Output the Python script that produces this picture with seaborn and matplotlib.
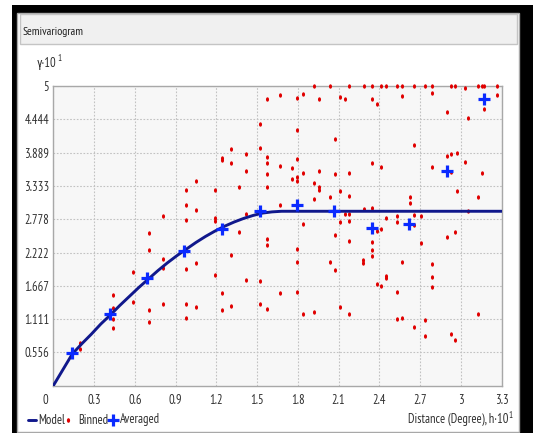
import matplotlib
matplotlib.use("Agg")
import matplotlib.pyplot as plt
import seaborn as sns
from matplotlib.lines import Line2D
from matplotlib.patches import Rectangle
from matplotlib.markers import MarkerStyle
from matplotlib.transforms import Affine2D, ScaledTranslation

# ---- empirical semivariogram cloud (binned pairs) ----
binned_x = [
    0.197, 0.197,
    0.437, 0.437, 0.437, 0.437,
    0.589, 0.589,
    0.705, 0.705, 0.705, 0.705,
    0.808, 0.808, 0.808, 0.808,
    0.975, 0.975, 0.975, 0.975, 0.975, 0.975,
    1.051, 1.051, 1.051, 1.051,
    1.188, 1.188, 1.188, 1.188,
    1.245, 1.245, 1.245, 1.245,
    1.309, 1.309, 1.309, 1.309,
    1.367, 1.367,
    1.419, 1.419, 1.419, 1.419,
    1.522, 1.522, 1.522, 1.522,
    1.571, 1.571, 1.571, 1.571, 1.571, 1.571, 1.571, 1.571,
    1.665, 1.665, 1.665, 1.665,
    1.755, 1.755,
    1.794, 1.794, 1.794, 1.794, 1.794, 1.794, 1.794, 1.794,
    1.836, 1.836, 1.836, 1.836,
    1.922, 1.922, 1.922, 1.922,
    1.957, 1.957, 1.957, 1.957,
    2.035, 2.035, 2.035,
    2.072, 2.072, 2.072, 2.072,
    2.109, 2.109, 2.109, 2.109,
    2.146, 2.146,
    2.177, 2.177, 2.177, 2.177, 2.177, 2.177, 2.177,
    2.283, 2.283, 2.278, 2.278,
    2.347, 2.347, 2.347, 2.347, 2.347, 2.347, 2.347,
    2.381, 2.381, 2.381,
    2.413, 2.413, 2.413, 2.413,
    2.445, 2.445, 2.445, 2.445,
    2.533, 2.533, 2.533, 2.533, 2.533,
    2.566, 2.566, 2.566, 2.566,
    2.622, 2.622,
    2.654, 2.654, 2.654, 2.654, 2.654,
    2.706, 2.706,
    2.737, 2.737, 2.737,
    2.789, 2.789, 2.789, 2.789, 2.789, 2.789,
    2.899, 2.899, 2.899,
    2.926, 2.926, 2.926, 2.926,
    2.953, 2.953, 2.953,
    2.973, 2.973,
    3.027, 3.027,
    3.051, 3.051,
    3.125, 3.125, 3.125,
    3.152, 3.152,
    3.171, 3.171,
    3.265, 3.265,
]
binned_y = [
    0.71, 0.62,
    1.52, 1.30, 1.11, 0.97,
    1.90, 1.40,
    2.55, 2.26, 1.26, 1.07,
    2.83, 2.11, 1.97, 1.36,
    3.26, 3.02, 2.77, 1.95, 1.36, 1.13,
    3.41, 2.93, 2.04, 1.32,
    3.27, 2.79, 2.75, 1.85,
    3.80, 3.77, 1.55, 1.26,
    3.95, 3.72, 2.18, 1.33,
    3.31, 2.57,
    3.86, 3.58, 2.87, 1.77,
    4.36, 3.96, 1.74, 1.36,
    4.78, 3.82, 3.72, 3.53, 3.32, 2.44, 2.35, 1.28,
    4.85, 3.67, 3.02, 1.54,
    3.63, 3.45,
    4.80, 4.27, 3.78, 3.49, 3.41, 2.28, 2.07, 1.56,
    4.86, 3.55, 2.69, 1.19,
    5.00, 3.38, 3.12, 1.23,
    4.78, 3.58, 3.32, 3.26,
    5.00, 3.14, 2.07,
    4.11, 3.53, 2.52, 1.93,
    4.82, 3.24, 2.73, 1.32,
    4.78, 2.87,
    5.00, 3.55, 3.16, 2.87, 2.75, 2.42, 1.19,
    5.00, 2.95, 2.09, 2.05,
    5.00, 4.78, 3.72, 2.96, 2.40, 2.26, 2.16,
    4.70, 2.58, 1.70,
    5.00, 3.65, 2.61, 1.67,
    5.00, 2.80, 1.83, 1.79,
    5.00, 2.83, 2.73, 1.56, 1.11,
    5.00, 4.83, 2.07, 1.13,
    3.15, 3.04,
    5.00, 4.02, 2.85, 2.68, 0.98,
    2.83, 2.38,
    5.00, 1.09, 0.83,
    5.00, 4.88, 3.65, 2.03, 1.81, 1.64,
    4.56, 3.83, 2.48,
    5.00, 3.86, 3.57, 0.86,
    5.00, 2.57, 0.76,
    3.88, 3.25,
    4.96, 3.74,
    4.47, 2.91,
    5.00, 3.14, 1.19,
    5.00, 3.55,
    5.00, 4.61,
    5.00, 4.85,
]

# ---- averaged semivariance per lag ----
averaged_x = [0.138, 0.418, 0.690, 0.962, 1.242, 1.520, 1.792, 2.067, 2.347, 2.619, 2.897, 3.171]
averaged_y = [0.545, 1.19, 1.80, 2.24, 2.61, 2.92, 3.02, 2.91, 2.63, 2.69, 3.58, 4.78]

# ---- fitted model curve ----
model_x = [0.0, 0.14, 0.21, 0.28, 0.35, 0.42, 0.49, 0.56, 0.63, 0.70, 0.77, 0.84,
           0.91, 0.98, 1.05, 1.12, 1.19, 1.26, 1.33, 1.40, 1.47, 1.54, 1.61, 1.68, 3.3]
model_y = [0.0, 0.53, 0.70, 0.86, 1.03, 1.18, 1.34, 1.49, 1.64, 1.78, 1.92, 2.05,
           2.17, 2.28, 2.39, 2.49, 2.58, 2.66, 2.73, 2.79, 2.84, 2.88, 2.90, 2.91, 2.91]

# ---- axis ticks ----
x_ticks = [0, 0.3, 0.6, 0.9, 1.2, 1.5, 1.8, 2.1, 2.4, 2.7, 3.0, 3.3]
x_tick_labels = ["0", "0.3", "0.6", "0.9", "1.2", "1.5", "1.8", "2.1", "2.4", "2.7", "3", "3.3"]
y_ticks = [0.5556, 1.1111, 1.6667, 2.2222, 2.7778, 3.3333, 3.8889, 4.4444, 5.0]
y_tick_labels = ["0.556", "1.111", "1.667", "2.222", "2.778", "3.333", "3.889", "4.444", "5"]

MODEL_COLOR = "#10188c"
BINNED_COLOR = "#e00000"
AVERAGED_COLOR = "#0a2aff"
TEXT_COLOR = "#303030"
FS = 9

sns.set_theme(style="white")
plt.rcParams["font.family"] = ["PT Sans Narrow", "Roboto Condensed", "DejaVu Sans"]

W, H = 533, 433
fig = plt.figure(figsize=(W / 100, H / 100), dpi=100)
fig.patch.set_facecolor("white")


def fx(px):
    return px / W


def fy(py):
    return 1 - py / H


def frect(x0, y0, x1, y1, **kw):
    r = Rectangle((fx(x0), fy(y1)), fx(x1) - fx(x0), fy(y0) - fy(y1),
                  transform=fig.transFigure, **kw)
    fig.add_artist(r)
    return r


# window frame, panel and title bar
frect(12, 5, 533, 440, facecolor="black", edgecolor="none", zorder=-10)
frect(17, 13, 519, 432, facecolor="white", edgecolor="#a8a8a8", linewidth=1, zorder=-9)
frect(20, 14, 517, 44, facecolor="#f0f0f0", edgecolor="#c4c4c4", linewidth=1, zorder=-8)
fig.text(fx(23), fy(32), "Semivariogram", ha="left", va="center", fontsize=8.5, color="#202020")

# plotting area
ax = fig.add_axes([fx(53.3), fy(385.7), fx(501.7) - fx(53.3), fy(86) - fy(385.7)])
ax.set_facecolor("#f7f7f7")

dot = MarkerStyle("o", transform=Affine2D().scale(0.7, 1.0))

sns.scatterplot(x=binned_x, y=binned_y, ax=ax, marker=dot, s=10, color=BINNED_COLOR,
                linewidth=0, zorder=2.6, clip_on=False)
sns.lineplot(x=model_x, y=model_y, ax=ax, color=MODEL_COLOR, linewidth=2.1,
             estimator=None, sort=False, zorder=3)
sns.scatterplot(x=averaged_x, y=averaged_y, ax=ax, marker="+", s=75, color=AVERAGED_COLOR,
                linewidth=2.3, zorder=4, clip_on=False)

ax.set_xlim(0, 3.3)
ax.set_ylim(0, 5)
ax.set_xticks(x_ticks)
ax.set_xticklabels(x_tick_labels)
ax.set_yticks(y_ticks)
ax.set_yticklabels(y_tick_labels)
ax.set_xlabel("")
ax.set_ylabel("")
ax.set_axisbelow(True)
ax.grid(True, color="#c2c2c2", linestyle=(0, (1.5, 1.5)), linewidth=0.8)
ax.tick_params(axis="both", length=0, labelsize=FS, labelcolor=TEXT_COLOR)
ax.tick_params(axis="x", pad=6)
ax.tick_params(axis="y", pad=3)
for sp in ax.spines.values():
    sp.set_color("#a8a8a8")
    sp.set_linewidth(1)
    sp.set_zorder(2.5)

# origin label sits left of its tick
first = ax.get_xticklabels()[0]
first.set_transform(first.get_transform() + ScaledTranslation(-8 / 100, 0, fig.dpi_scale_trans))

# axis titles with power-of-ten superscripts
ylab = fig.text(fx(37), fy(63), "γ·10", ha="left", va="center", fontsize=FS, color=TEXT_COLOR)
ax.annotate("1", xy=(1, 0.85), xycoords=ylab, xytext=(0.4, 0), textcoords="offset points",
            ha="left", va="center", fontsize=6.5, color=TEXT_COLOR, annotation_clip=False)
xlab = fig.text(fx(508), fy(420), "Distance (Degree), h·10", ha="right", va="center",
                fontsize=FS, color=TEXT_COLOR)
ax.annotate("1", xy=(1, 0.85), xycoords=xlab, xytext=(0.4, 0), textcoords="offset points",
            ha="left", va="center", fontsize=6.5, color=TEXT_COLOR, annotation_clip=False)

# legend row
ly = fy(420)
fig.add_artist(Line2D([fx(28), fx(36)], [ly, ly], color=MODEL_COLOR, linewidth=2.1,
                      transform=fig.transFigure))
fig.text(fx(38), ly, "Model", ha="left", va="center", fontsize=FS, color=TEXT_COLOR)
fig.add_artist(Line2D([fx(68)], [ly], marker=dot, markersize=3.3, color=BINNED_COLOR,
                      markeredgewidth=0, linestyle="none", transform=fig.transFigure))
fig.text(fx(78), ly, "Binned", ha="left", va="center", fontsize=FS, color=TEXT_COLOR)
fig.add_artist(Line2D([fx(113)], [ly], marker="+", markersize=9, markeredgewidth=2.3,
                      color=AVERAGED_COLOR, linestyle="none", transform=fig.transFigure))
fig.text(fx(120), ly, "Averaged", ha="left", va="center", fontsize=FS, color=TEXT_COLOR)

fig.savefig("out.png", dpi=100)
